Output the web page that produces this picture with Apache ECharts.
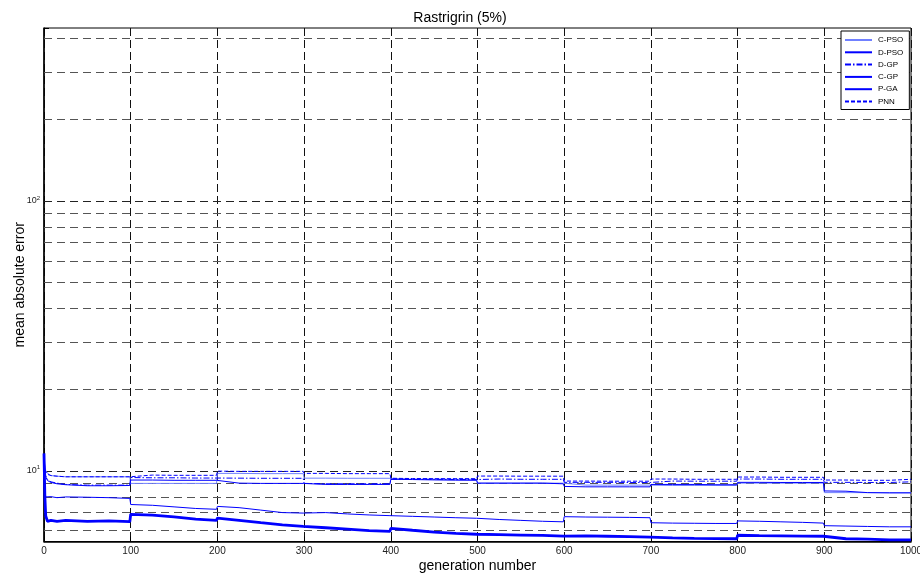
<!DOCTYPE html>
<html>
<head>
<meta charset="utf-8">
<style>html,body{margin:0;padding:0;background:#fff;}#c{width:920px;height:578px;}</style>
<script src="https://cdn.jsdelivr.net/npm/echarts@6/dist/echarts.min.js"></script>
</head>
<body>
<div id="c"></div>
<script>
var gens = [0,1,2,4,8,15,25,50,75,99,
  100,125,150,175,199, 200,225,250,275,299, 300,325,350,375,399, 400,425,450,475,499,
  500,525,550,575,599, 600,625,650,675,699, 700,725,750,775,799, 800,825,850,875,899,
  900,925,950,975,1000];
var cPSO = [11.5,10.5,10.0,9.8,9.6,9.55,9.5,9.5,9.5,9.5,
  8.98,8.98,8.98,8.98,8.98, 9.78,9.78,9.76,9.76,9.76, 9.39,9.39,9.38,9.38,9.38, 9.32,9.3,9.3,9.3,9.3,
  9.0,9.0,9.0,9.0,9.0, 8.85,8.85,8.85,8.85,8.85, 8.82,8.82,8.82,8.82,8.82, 9.0,9.0,9.0,9.0,9.0,
  8.3,8.3,8.3,8.3,8.3];
var dPSO = [11.6,8.0,6.8,6.5,6.55,6.5,6.55,6.5,6.52,6.48,
  6.9,6.85,6.75,6.62,6.55, 6.68,6.55,6.42,6.3,6.22, 6.25,6.15,6.08,6.0,5.96, 6.12,6.02,5.93,5.86,5.82,
  5.82,5.8,5.78,5.76,5.73, 5.75,5.74,5.72,5.7,5.68, 5.66,5.64,5.62,5.61,5.6, 5.77,5.75,5.74,5.73,5.72,
  5.64,5.6,5.58,5.55,5.55];
var dGP = [11.0,10.2,9.6,9.3,9.1,9.0,8.9,8.85,8.85,8.85,
  9.44,9.42,9.42,9.4,9.4, 9.45,9.39,9.38,9.38,9.38, 8.98,8.95,8.95,8.95,8.95, 9.3,9.3,9.3,9.28,9.28,
  9.32,9.32,9.3,9.3,9.3, 9.06,9.06,9.06,9.05,9.05, 9.16,9.16,9.15,9.15,9.15, 9.32,9.32,9.3,9.3,9.3,
  9.06,9.06,9.05,9.05,9.1];
var cGP = [11.0,8.5,8.0,7.95,8.02,7.95,8.0,7.98,7.95,7.9,
  7.5,7.45,7.35,7.25,7.2, 7.38,7.3,7.15,7.0,6.97, 7.05,7.0,6.92,6.86,6.82, 6.8,6.78,6.74,6.7,6.67,
  6.66,6.6,6.55,6.5,6.47, 6.76,6.74,6.73,6.72,6.7, 6.42,6.4,6.39,6.38,6.38, 6.52,6.5,6.47,6.44,6.4,
  6.26,6.24,6.22,6.2,6.2];
var pGA = [11.0,10.0,9.5,9.2,9.05,8.95,8.88,8.8,8.8,8.82,
  9.24,9.24,9.22,9.22,9.22, 9.24,9.0,8.98,8.98,8.98, 8.92,8.9,8.9,8.9,8.9, 9.3,9.28,9.25,9.23,9.22,
  9.0,9.0,9.0,9.0,8.95, 8.75,8.72,8.72,8.72,8.72, 8.9,8.9,8.9,8.88,8.88, 9.06,9.06,9.05,9.05,9.05,
  8.42,8.4,8.3,8.28,8.28];
var pnn = [11.2,10.3,9.9,9.7,9.6,9.55,9.5,9.5,9.5,9.5,
  9.64,9.64,9.62,9.62,9.62, 9.97,9.95,9.95,9.95,9.95, 9.78,9.78,9.76,9.76,9.76, 9.38,9.36,9.35,9.35,9.35,
  9.56,9.56,9.55,9.55,9.55, 9.16,9.16,9.15,9.15,9.15, 9.32,9.32,9.3,9.3,9.3, 9.48,9.48,9.46,9.46,9.46,
  9.24,9.24,9.22,9.22,9.3];
var gridValues = [6,7,8,9,10,20,30,40,50,60,70,80,90,100,200,300,400];
var xTicks = [0,100,200,300,400,500,600,700,800,900,1000];

function pairs(ys){ return gens.map(function(g,i){ return [g, ys[i]]; }); }
var FONT = 'Liberation Sans, Arial, sans-serif';
var chart = echarts.init(document.getElementById('c'), null, {renderer:'canvas'});
function mk(name, ys, color, width, type, z){
  return {name:name, type:'line', data:pairs(ys), symbol:'none', showSymbol:false, z:z||3,
    lineStyle:{color:color, width:width, type:type}, itemStyle:{color:color}, animation:false};
}
var option = {
  animation:false,
  backgroundColor:'#fff',
  title:{text:'Rastrigrin (5%)', left:'center', top:6, textStyle:{fontFamily:FONT, fontSize:14, fontWeight:'normal', color:'#000'}},
  grid:{left:44, right:9, top:28, bottom:36.5, show:true, borderColor:'#000', borderWidth:1, containLabel:false, outerBoundsMode:'none'},
  legend:{left:841, top:31, z:20, orient:'vertical', itemWidth:27, itemHeight:8, itemGap:4.3,
    padding:[5,6,4,3], backgroundColor:'#fff', borderColor:'#000', borderWidth:1,
    itemStyle:{opacity:0, borderWidth:0},
    textStyle:{fontFamily:FONT, fontSize:8, color:'#000', padding:[0,0,0,1]},
    data:['C-PSO','D-PSO','D-GP','C-GP','P-GA','PNN']},
  xAxis:{type:'value', min:0, max:1000, interval:100, name:'generation number', nameLocation:'middle', nameGap:18,
    nameMoveOverlap:false,
    nameTextStyle:{fontFamily:FONT, fontSize:14, color:'#000'},
    axisLine:{show:true, lineStyle:{color:'#000', width:1.5}},
    axisTick:{show:true, inside:true, length:5, lineStyle:{color:'#000'}},
    axisLabel:{fontFamily:FONT, fontSize:10, color:'#222', margin:5,
      formatter:function(v){ return xTicks.indexOf(v)>=0 ? String(v) : ''; }},
    splitLine:{show:true, lineStyle:{color:'#111', type:[8,4], width:1}}},
  yAxis:{type:'log', logBase:10, min:5.47, max:437, name:'mean absolute error', nameLocation:'middle', nameGap:17,
    nameMoveOverlap:false,
    nameTextStyle:{fontFamily:FONT, fontSize:14, color:'#000'},
    axisLine:{show:true, lineStyle:{color:'#000', width:1.5}},
    axisTick:{show:true, inside:true, length:5, lineStyle:{color:'#000'}},
    splitLine:{show:false},
    axisLabel:{fontFamily:FONT, color:'#222', margin:4,
      formatter:function(v){
        var l = Math.log10(v), r = Math.round(l);
        if (Math.abs(l-r) < 1e-6 && (r===1 || r===2)) return '{b|10}{s|' + r + '}';
        return '';
      },
      rich:{b:{fontFamily:FONT, fontSize:9, color:'#222'}, s:{fontFamily:FONT, fontSize:6, color:'#222', verticalAlign:'top', padding:[0,0,6,0]}}}},
  series:[
    {type:'line', data:[], z:1, silent:true, animation:false,
     markLine:{silent:true, z:1, symbol:'none', animation:false, label:{show:false},
       lineStyle:{color:'#444', type:[8,5], width:1},
       data:gridValues.map(function(v){ return {yAxis:v, lineStyle:{color:(v===10||v===100)?'#222':'#555', type:[8,5], width:1}}; })}},
    mk('C-PSO', cPSO, '#7080ff', 1, 'solid', 3),
    mk('D-GP', dGP, '#0000ff', 1, [6,2,1.5,2], 4),
    mk('P-GA', pGA, '#0000ff', 1, 'solid', 4),
    mk('PNN', pnn, '#0000ff', 1, [4,2], 4),
    mk('C-GP', cGP, '#0000ff', 1, 'solid', 4),
    mk('D-PSO', dPSO, '#0000ff', 2.8, 'solid', 5)
  ]
};
chart.setOption(option);
</script>
</body>
</html>
